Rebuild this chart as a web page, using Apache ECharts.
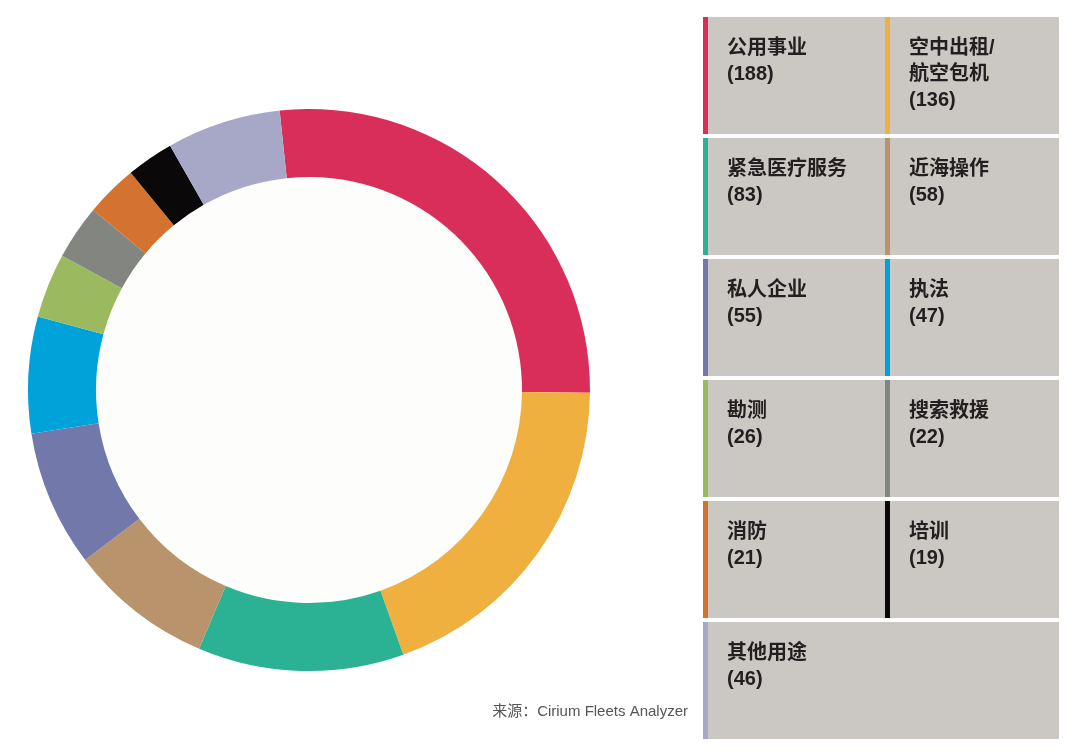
<!DOCTYPE html>
<html><head><meta charset="utf-8">
<script src="https://cdn.jsdelivr.net/npm/echarts@6/dist/echarts.min.js"></script>
<style>html,body{margin:0;padding:0;background:#fff}#c{width:1080px;height:753px}</style>
</head><body><div id="c"></div>
<script>
const categories = ['公用事业','空中出租/\n航空包机','紧急医疗服务','近海操作','私人企业','执法','勘测','搜索救援','消防','培训','其他用途'];
const values = [188,136,83,58,55,47,26,22,21,19,46];
const colors = ['#d92e5a','#f0b040','#2bb193','#b8936b','#7378ab','#00a3d9','#9bba5f','#838580','#d4722f','#0a0808','#a7a8c8'];
const sourceText = '来源：Cirium Fleets Analyzer';

const font = '"Liberation Sans","Noto Sans CJK SC",Arial,sans-serif';
const graphics = [];
const cellX = [703, 885], cellW = [182, 174];
const top0 = 17, rowH = 117, rowStep = 121;
categories.forEach((name, i) => {
  const row = Math.floor(i / 2), col = i % 2;
  const last = i === categories.length - 1;
  const x = cellX[col], y = top0 + row * rowStep;
  const w = last ? (cellW[0] + cellW[1]) : cellW[col];
  graphics.push({type:'rect', shape:{x:x, y:y, width:w, height:rowH}, style:{fill:'#cbc8c3'}, silent:true});
  graphics.push({type:'rect', shape:{x:x, y:y, width:5, height:rowH}, style:{fill:colors[i]}, silent:true});
  graphics.push({type:'text', x:x+24, y:y+18, style:{text:name + '\n(' + values[i] + ')', font:'bold 20px ' + font, fill:'#231f20', lineHeight:26, textVerticalAlign:'top'}, silent:true});
});
graphics.push({type:'text', right:392, top:704, style:{text:sourceText, font:'15px ' + font, fill:'#555555'}, silent:true});

const chart = echarts.init(document.getElementById('c'));
chart.setOption({
  backgroundColor:'#ffffff',
  animation:false,
  graphic: graphics,
  series:[
    {type:'pie', center:[309,390], radius:[0,214], silent:true, label:{show:false},
     data:[{value:1, itemStyle:{color:'#fdfdfb'}}]},
    {type:'pie', center:[309,390], radius:[213,281], startAngle:96, clockwise:true,
     label:{show:false}, labelLine:{show:false}, silent:true,
     itemStyle:{borderWidth:0},
     data: categories.map((n,i)=>({name:n, value:values[i], itemStyle:{color:colors[i]}}))}
  ]
});
</script></body></html>
